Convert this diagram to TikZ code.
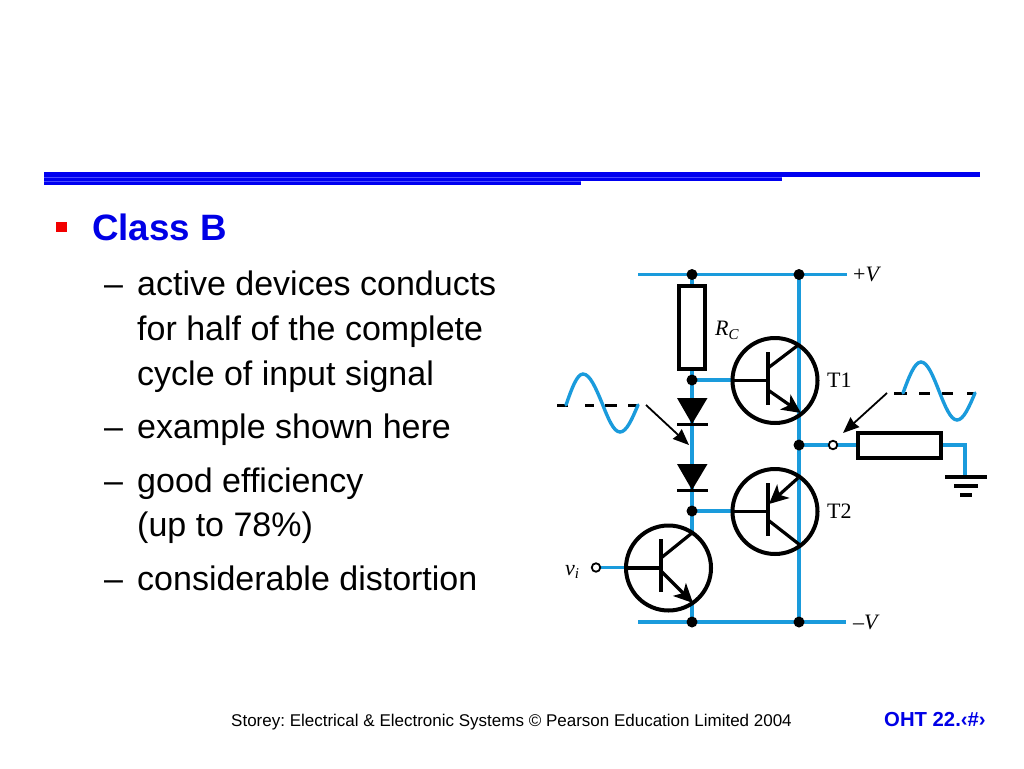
\documentclass[tikz,border=0pt]{standalone}
\usepackage{fontspec}
\setmainfont{Liberation Sans}
\newfontfamily\serifcirc{Liberation Serif}
\usetikzlibrary{arrows.meta}
\definecolor{wire}{HTML}{1A9BDC}
\definecolor{rulecol}{HTML}{0000F0}
\definecolor{titlecol}{HTML}{0000E6}
\tikzset{
  wireline/.style={draw=wire,line width=3.2pt},
  device/.style={draw=black,line width=4pt,fill=none,inner sep=0pt,outer sep=0pt},
  ring/.style={device,circle,minimum size=85pt},
  resistor/.style={draw=black,line width=3.2pt,fill=white,inner sep=0pt,outer sep=0pt},
  lead/.style={draw=black,line width=3.2pt},
  emitter/.style={lead,-{Stealth[length=19pt,width=18pt,inset=5pt]}},
  dot/.style={circle,fill=black,inner sep=0pt,minimum size=11pt},
  openpin/.style={circle,draw=black,fill=white,line width=1.8pt,inner sep=0pt,minimum size=8.5pt},
  pointer/.style={draw=black,line width=1.8pt,-{Stealth[length=16pt,width=13pt,inset=1pt]}},
  zeroaxis/.style={draw=black,line width=3pt},
  circlabel/.style={font=\serifcirc\fontsize{22}{25}\selectfont,inner sep=0pt,anchor=base west},
  body/.style={font=\fontsize{34}{38}\selectfont,inner sep=0pt,anchor=base west},
  foot/.style={font=\fontsize{17}{20}\selectfont\frenchspacing,inner sep=0pt,anchor=base west},
}
\begin{document}
\begin{tikzpicture}[x=1pt,y=-1pt]
\useasboundingbox (0,0) rectangle (1024,768);
\fill[white] (0,0) rectangle (1024,768);

% title rule
\fill[rulecol] (44,172) rectangle (980,177);
\fill[rulecol] (44,177) rectangle (782,181);
\fill[rulecol] (44,181) rectangle (581,185);
\draw[blue!70!white,line width=.6pt] (44,176.8) -- (782,176.8);
\draw[blue!70!white,line width=.6pt] (44,180.8) -- (581,180.8);

% text
\fill[red!95!black] (56,222) rectangle (67,232);
\node[body,font=\bfseries\fontsize{36.7}{40}\selectfont,text=titlecol] (title) at (92,240) {Class B};
\node[body] (d1) at (104,295) {–};
\node[body] (l1) at (137,295) {active devices conducts};
\node[body] (l2) at (137,340) {for half of the complete};
\node[body] (l3) at (137,385) {cycle of input signal};
\node[body] (d2) at (104,438) {–};
\node[body] (l4) at (137,438) {example shown here};
\node[body] (d3) at (104,492) {–};
\node[body] (l5) at (137,492) {good efficiency};
\node[body] (l6) at (137,536) {(up to 78\%)};
\node[body] (d4) at (104,590) {–};
\node[body] (l7) at (137,590) {considerable distortion};
\node[foot] (footer) at (231,726) {Storey: Electrical \& Electronic Systems © Pearson Education Limited 2004};
\node[foot,font=\bfseries\fontsize{20.3}{24}\selectfont,text=titlecol] (oht) at (884,726) {OHT 22.‹\#›};

% circuit coordinates
\coordinate (railTL) at (638,274.5);
\coordinate (railTR) at (847,274.5);
\coordinate (railBL) at (638,622);
\coordinate (railBR) at (846,622);
\coordinate (jTop) at (692,274.5);
\coordinate (jTopR) at (799,274.5);
\coordinate (jBot) at (692,622);
\coordinate (jBotR) at (799,622);
\coordinate (jRc) at (692,380);
\coordinate (jMid) at (692,511);
\coordinate (jOut) at (799,445);
\coordinate (gndTop) at (965,477);
\coordinate (gndCorner) at (965,445);
\coordinate (c3) at (692,533);

% wires
\draw[wireline] (railTL) -- (railTR);
\draw[wireline] (railBL) -- (railBR);
\draw[wireline] (jTop) -- (c3);
\draw[wireline] (692,602) -- (jBot);
\draw[wireline] (jTopR) -- (jBotR);
\draw[wireline] (jRc) -- (732,380);
\draw[wireline] (jMid) -- (732,511);
\draw[wireline] (596,567.5) -- (626,567.5);
\draw[wireline] (jOut) -- (gndCorner) -- (gndTop);

% resistors
\node[resistor,minimum width=26pt,minimum height=83pt] (Rc) at (692,327.5) {};
\node[resistor,minimum width=83pt,minimum height=25pt] (Rl) at (899.5,445.5) {};

% junctions and pins
\foreach \p in {jTop,jTopR,jBot,jBotR,jRc,jMid,jOut} \node[dot] at (\p) {};
\node[openpin] (vin) at (596,567.5) {};
\node[openpin] (vout) at (833,445) {};

% diodes
\fill[black] (677,398) -- (707.5,398) -- (692,424) -- cycle;
\draw[lead] (677,424.5) -- (707.5,424.5);
\fill[black] (677,464) -- (707.5,464) -- (692,490) -- cycle;
\draw[lead] (677,490.5) -- (707.5,490.5);

% T1
\node[ring] (T1) at (775,380.5) {};
\draw[lead] (T1.west) -- (768,380.5);
\draw[device] (768,352) -- (768,405);
\draw[lead] (768,368) -- (797,346);
\draw[emitter] (768,390) -- (801,413);
% T2
\node[ring] (T2) at (775,511.5) {};
\draw[lead] (T2.west) -- (768,511.5);
\draw[device] (768,483) -- (768,536);
\draw[emitter] (798,478) -- (769,504);
\draw[lead] (768,520) -- (800,545);
% T3
\node[ring] (T3) at (668.5,568) {};
\draw[lead] (T3.west) -- (661,568);
\draw[device] (661,539) -- (661,592);
\draw[lead] (661,558) -- (692,533);
\draw[emitter] (661,571) -- (693,603);

% ground
\draw[lead] (945,477) -- (987,477);
\draw[lead] (954,486) -- (978,486);
\draw[lead] (960,495) -- (972,495);

% waveforms
\draw[zeroaxis] (557,405) -- (568,405) (585,405) -- (594,405) (605,405) -- (617,405) (628,405) -- (638,405);
\draw[draw=wire,line width=3.4pt,line cap=round] (566,405) sin (583,374) cos (602,403) sin (620,432) cos (638,405);
\draw[zeroaxis] (894,393) -- (907,393) (919,393) -- (930,393) (942,393) -- (953,393) (967,393) -- (975,393);
\draw[draw=wire,line width=3.4pt,line cap=round] (903,393) sin (921,362) cos (939,391) sin (957,420) cos (975,393);
\coordinate (pa) at (646,405);
\coordinate (pb) at (689,445);
\coordinate (pc) at (887,393);
\coordinate (pd) at (843,433);
\draw[pointer] (pa) -- (pb);
\draw[pointer] (pc) -- (pd);

% labels
\node[circlabel] (plusV) at (853,281) {+\textit{V}};
\node[circlabel] (minusV) at (853,629) {–\textit{V}};
\node[circlabel] (lRc) at (715,335) {\textit{R}\raisebox{-4pt}{\fontsize{15}{15}\selectfont\textit{C}}};
\node[circlabel] (lT1) at (827,387) {T1};
\node[circlabel] (lT2) at (827,518) {T2};
\node[circlabel] (lvi) at (565,575) {\textit{v}\raisebox{-3pt}{\fontsize{15}{15}\selectfont\textit{i}}};
\end{tikzpicture}
\end{document}
